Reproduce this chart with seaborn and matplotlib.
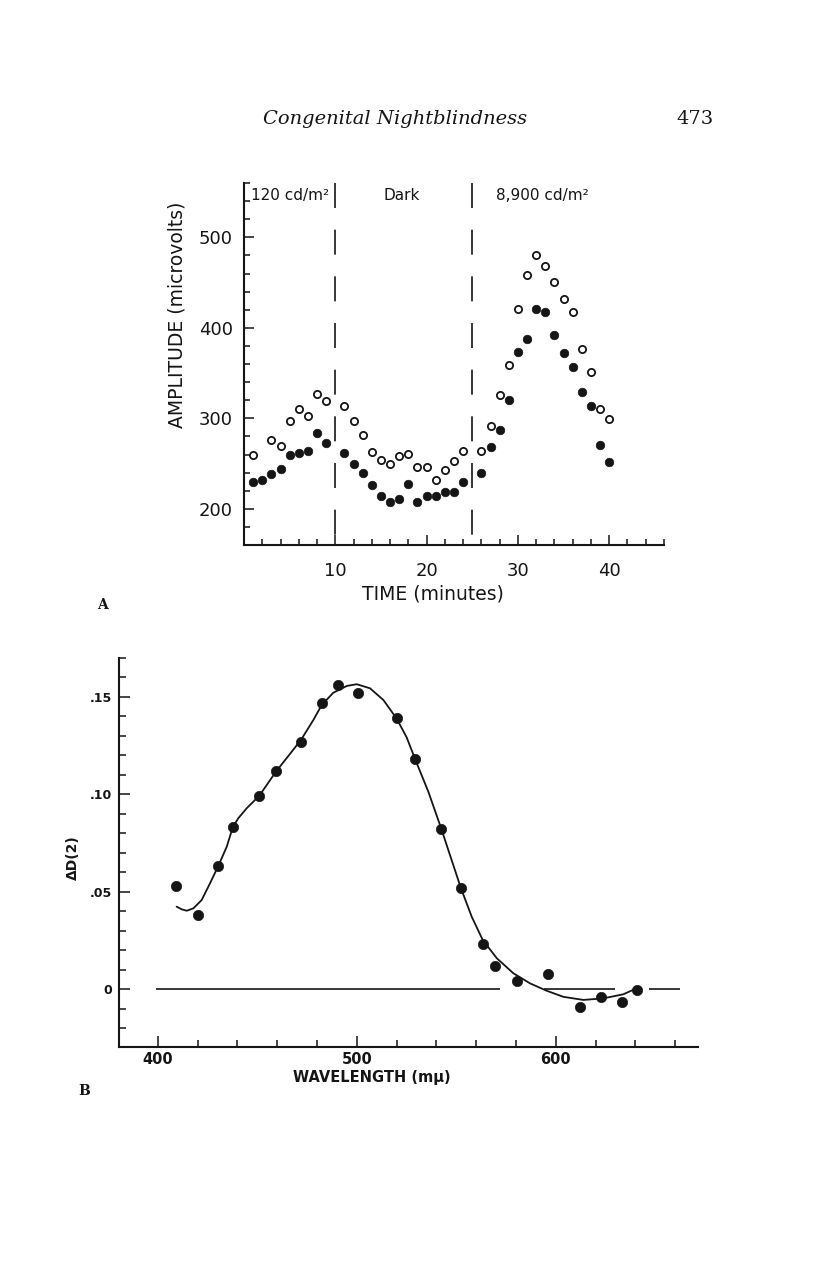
import matplotlib
matplotlib.use("Agg")
import matplotlib.pyplot as plt
import matplotlib.ticker as mticker
import seaborn as sns

# ---- Painel A : amplitude x tempo ----
time_open = [1, 3, 4, 5, 6, 7, 8, 9,
             11, 12, 13, 14, 15, 16, 17, 18, 19, 20, 21, 22, 23, 24,
             26, 27, 28, 29, 30, 31, 32, 33, 34, 35, 36, 37, 38, 39, 40]
amp_open = [259, 276, 269, 297, 310, 302, 327, 319,
            314, 297, 281, 263, 254, 249, 258, 261, 246, 246, 232, 243, 253, 264,
            264, 291, 326, 359, 421, 458, 480, 468, 451, 432, 417, 377, 351, 310, 299]

time_filled = [1, 2, 3, 4, 5, 6, 7, 8, 9,
               11, 12, 13, 14, 15, 16, 17, 18, 19, 20, 21, 22, 23, 24,
               26, 27, 28, 29, 30, 31, 32, 33, 34, 35, 36, 37, 38, 39, 40]
amp_filled = [230, 232, 239, 244, 259, 262, 264, 284, 273,
              262, 249, 240, 226, 214, 207, 211, 227, 207, 214, 214, 219, 219, 230,
              240, 268, 287, 320, 373, 388, 421, 417, 392, 372, 357, 329, 314, 270, 252]

phase_bounds = [10, 25]
phase_labels = ["120 cd/m²", "Dark", "8,900 cd/m²"]
phase_label_x = [0.75, 17.3, 27.6]
xticks_a = [10, 20, 30, 40]
yticks_a = [200, 300, 400, 500]

# ---- Painel B : delta D(2) x comprimento de onda ----
wl_points = [409, 420, 430.5, 438, 451, 459.5, 472, 482.5, 490.5, 500.5,
             520, 529.5, 542.5, 552.5, 563.5, 569.5, 580.5, 596, 612, 623, 633.5, 641]
dd_points = [0.053, 0.038, 0.063, 0.083, 0.099, 0.112, 0.127, 0.147, 0.156, 0.152,
             0.139, 0.118, 0.082, 0.052, 0.023, 0.012, 0.004, 0.0077, -0.009, -0.004, -0.0067, -0.0003]

# curva ajustada
curve_wl = [409.5, 412.1, 414.6, 417.9, 422.1, 426.3, 430.5, 434.7, 437.8, 440.5,
            444.7, 451.1, 459.4, 465.6, 472.0, 478.2, 482.4, 488.2, 495.0, 500.0,
            506.7, 513.4, 520.1, 525.1, 529.4, 536.0, 542.5, 547.7, 552.4, 557.8,
            563.3, 570.4, 578.7, 587.1, 595.5, 603.8, 613.9, 623.9, 634.0, 640.7]
curve_dd = [0.0423, 0.0409, 0.0402, 0.0414, 0.0457, 0.0543, 0.0633, 0.0731, 0.0833, 0.0877,
            0.0928, 0.0993, 0.1116, 0.1196, 0.1279, 0.1381, 0.1458, 0.1521, 0.1556, 0.1565,
            0.1544, 0.1484, 0.1388, 0.1292, 0.1179, 0.1013, 0.0823, 0.0662, 0.0517, 0.0371,
            0.0252, 0.0158, 0.0081, 0.0029, -0.0009, -0.0040, -0.0056, -0.0048, -0.0027, 0.0004]

# linha de base em zero (interrompida)
base_start = [399, 594, 647]
base_end = [572, 630, 662.5]

xticks_b = [400, 500, 600]
xtick_labels_b = ["400", "500", "600"]
yticks_b = [0, 0.05, 0.10, 0.15]
ytick_labels_b = ["0", ".05", ".10", ".15"]

# estilo geral
sns.set_style("ticks")
plt.rcParams['font.family'] = ['DejaVu Sans']
ink = '#151515'

fig = plt.figure(figsize=(8.16, 12.86), dpi=100)

# cabeçalho da página
fig.text(263/816, 1-119/1286, "Congenital Nightblindness", family='DejaVu Serif',
         style='italic', fontsize=14, ha='left', va='center', color=ink)
fig.text(676/816, 1-119/1286, "473", family='DejaVu Serif', fontsize=14,
         ha='left', va='center', color=ink)

# ================= Painel A =================
ax1 = fig.add_axes([0.2990, 0.5762, 0.5147, 0.2815])
sns.scatterplot(x=time_filled, y=amp_filled, ax=ax1, s=38, color=ink, edgecolor=ink, linewidth=0.5)
sns.scatterplot(x=time_open, y=amp_open, ax=ax1, s=27, color='white', edgecolor=ink, linewidth=1.3)
for b in phase_bounds:
    ax1.vlines(b, 560, 160, colors=ink, linewidth=1.2, linestyles=(0, (15, 13)))
for lab, lx in zip(phase_labels, phase_label_x):
    ax1.text(lx, 546, lab, ha='center' if lab == "Dark" else 'left', va='center',
             fontsize=11, color=ink)

ax1.set_xlim(0, 46)
ax1.set_ylim(160, 560)
ax1.set_xticks(xticks_a)
ax1.set_yticks(yticks_a)
ax1.xaxis.set_minor_locator(mticker.MultipleLocator(2))
ax1.yaxis.set_minor_locator(mticker.MultipleLocator(20))
ax1.tick_params(which='both', direction='in', color=ink, width=1.1)
ax1.tick_params(which='major', length=7)
ax1.tick_params(which='minor', length=4)
ax1.tick_params(axis='y', which='major', labelsize=13, pad=8, labelcolor=ink)
ax1.tick_params(axis='x', which='major', labelsize=13, pad=12, labelcolor=ink)
ax1.spines['top'].set_visible(False)
ax1.spines['right'].set_visible(False)
for sp in ['left', 'bottom']:
    ax1.spines[sp].set_linewidth(1.5)
    ax1.spines[sp].set_color(ink)
ax1.set_xlabel('')
ax1.set_ylabel('')
ax1.text(0.451, -0.135, "TIME (minutes)", transform=ax1.transAxes, ha='center', va='center',
         fontsize=13.5, color=ink)
ax1.text(-0.160, 0.635, "AMPLITUDE (microvolts)", transform=ax1.transAxes, ha='center',
         va='center', rotation=90, fontsize=13.5, color=ink)
fig.text(102/816, 1-605/1286, "A", family='DejaVu Serif', fontsize=10, fontweight='bold',
         ha='center', va='center', color=ink)

# ================= Painel B =================
ax2 = fig.add_axes([0.1462, 0.1861, 0.7092, 0.3023])
ax2.hlines([0] * len(base_start), base_start, base_end, colors=ink, linewidth=1.2)
sns.lineplot(x=curve_wl, y=curve_dd, ax=ax2, sort=False, estimator=None, color=ink, linewidth=1.3)
sns.scatterplot(x=wl_points, y=dd_points, ax=ax2, s=55, color=ink, edgecolor=ink, linewidth=0.5, zorder=3)

ax2.set_xlim(380.7, 671.5)
ax2.set_ylim(-0.0296, 0.170)
ax2.set_xticks(xticks_b)
ax2.set_xticklabels(xtick_labels_b)
ax2.set_yticks(yticks_b)
ax2.set_yticklabels(ytick_labels_b)
ax2.xaxis.set_minor_locator(mticker.MultipleLocator(20))
ax2.yaxis.set_minor_locator(mticker.MultipleLocator(0.01))
ax2.tick_params(which='both', direction='in', color=ink, width=1.1)
ax2.tick_params(which='major', length=8)
ax2.tick_params(which='minor', length=5)
ax2.tick_params(axis='y', which='major', labelsize=9, pad=5, labelcolor=ink)
ax2.tick_params(axis='x', which='major', labelsize=10.5, pad=4, labelcolor=ink)
for lab in ax2.get_xticklabels() + ax2.get_yticklabels():
    lab.set_fontweight('bold')
ax2.spines['top'].set_visible(False)
ax2.spines['right'].set_visible(False)
for sp in ['left', 'bottom']:
    ax2.spines[sp].set_linewidth(1.5)
    ax2.spines[sp].set_color(ink)
ax2.set_xlabel('')
ax2.set_ylabel('')
ax2.text(0.4358, -0.0805, "WAVELENGTH (mμ)", transform=ax2.transAxes, ha='center', va='center',
         fontsize=10.5, fontweight='bold', color=ink)
ax2.text(-0.0809, 0.486, "ΔD(2)", transform=ax2.transAxes, ha='center', va='center',
         rotation=90, fontsize=10, fontweight='bold', color=ink)
fig.text(84/816, 1-1091/1286, "B", family='DejaVu Serif', fontsize=10, fontweight='bold',
         ha='center', va='center', color=ink)

plt.savefig('out.png', dpi=100)
